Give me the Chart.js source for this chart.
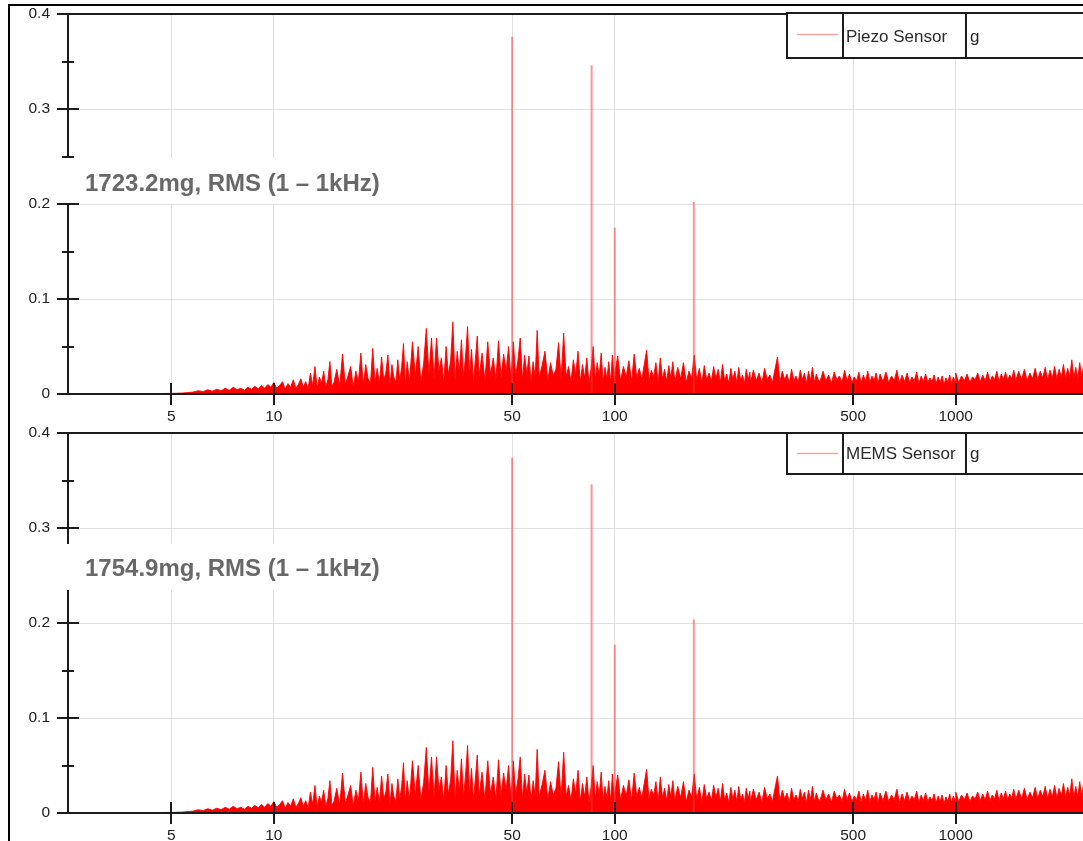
<!DOCTYPE html>
<html>
<head>
<meta charset="utf-8">
<script src="https://cdn.jsdelivr.net/npm/chart.js@4.4.1/dist/chart.umd.min.js"></script>
<style>
  html, body { margin: 0; padding: 0; background: #fff; overflow: hidden; }
  #page { position: relative; width: 1083px; height: 841px; }
  #frame { position: absolute; left: 8px; top: 4px; right: 0; bottom: 0; border-left: 2px solid #000; border-top: 2px solid #000; }
  canvas { position: absolute; left: 0; }
  #piezo { top: 0; }
  #mems { top: 419px; }
</style>
</head>
<body>
<div id="page">
  <div id="frame"></div>
  <canvas id="piezo" width="1083" height="430"></canvas>
  <canvas id="mems" width="1083" height="430"></canvas>
</div>
<script>
// axis ticks
const xTicks = [5, 10, 50, 100, 500, 1000];

// spectrum, band by band (Hz / g). both sensors read the same at this scale
const hzLow = [2.5, 3, 3.5, 4, 4.5, 5, 5.2, 5.4, 5.6, 5.8, 6, 6.2, 6.4, 6.6, 6.8, 7, 7.2, 7.4, 7.6, 7.8, 8, 8.2, 8.4, 8.6, 8.8, 9, 9.2, 9.4, 9.6, 9.8];
const gLow = [0.0004, 0.0004, 0.0004, 0.0005, 0.0005, 0.0006, 0.0008, 0.001, 0.0015, 0.002, 0.0035, 0.0025, 0.0045, 0.003, 0.005, 0.0035, 0.006, 0.004, 0.007, 0.0045, 0.006, 0.004, 0.007, 0.005, 0.008, 0.0055, 0.009, 0.006, 0.01, 0.007];

const hz10to15 = [10, 10.2, 10.4, 10.6, 10.8, 11, 11.2, 11.4, 11.6, 11.8, 12, 12.2, 12.4, 12.6, 12.8, 13, 13.2, 13.4, 13.6, 13.8, 14, 14.2, 14.4, 14.6, 14.8];
const g10to15 = [0.012, 0.006, 0.009, 0.013, 0.005, 0.011, 0.007, 0.015, 0.006, 0.010, 0.016, 0.007, 0.013, 0.005, 0.022, 0.009, 0.029, 0.006, 0.018, 0.011, 0.024, 0.007, 0.015, 0.034, 0.008];

const hz15to25 = [15, 15.3, 15.6, 15.9, 16.2, 16.5, 16.8, 17.1, 17.4, 17.7, 18, 18.3, 18.6, 18.9, 19.2, 19.5, 19.8, 20.1, 20.4, 20.7, 21, 21.3, 21.6, 21.9, 22.2, 22.5, 22.8, 23.1, 23.4, 23.7, 24, 24.3, 24.6, 24.9];
const g15to25 = [0.012, 0.026, 0.008, 0.042, 0.010, 0.019, 0.029, 0.007, 0.024, 0.013, 0.043, 0.009, 0.031, 0.016, 0.011, 0.048, 0.012, 0.027, 0.010, 0.039, 0.015, 0.022, 0.041, 0.009, 0.031, 0.017, 0.012, 0.036, 0.014, 0.028, 0.053, 0.011, 0.034, 0.018];

const hz25to40 = [25, 25.5, 26, 26.5, 27, 27.5, 28, 28.5, 29, 29.5, 30, 30.5, 31, 31.5, 32, 32.5, 33, 33.5, 34, 34.5, 35, 35.5, 36, 36.5, 37, 37.5, 38, 38.5, 39, 39.5];
const g25to40 = [0.014, 0.055, 0.019, 0.050, 0.013, 0.032, 0.069, 0.021, 0.059, 0.016, 0.059, 0.024, 0.038, 0.012, 0.050, 0.020, 0.035, 0.076, 0.015, 0.045, 0.022, 0.057, 0.017, 0.040, 0.071, 0.019, 0.047, 0.013, 0.036, 0.061];

const hz40to60 = [40, 40.8, 41.6, 42.4, 43.2, 44, 44.8, 45.6, 46.4, 47.2, 48, 48.8, 49.6, 50.4, 51.2, 52, 52.8, 53.6, 54.4, 55.2, 56, 56.8, 57.6, 58.4, 59.2];
const g40to60 = [0.018, 0.043, 0.014, 0.055, 0.020, 0.038, 0.015, 0.056, 0.017, 0.042, 0.024, 0.050, 0.016, 0.055, 0.019, 0.036, 0.059, 0.015, 0.041, 0.021, 0.040, 0.013, 0.034, 0.018, 0.067];

const hz60to100 = [60, 61.2, 62.4, 63.6, 64.8, 66, 67.2, 68.4, 69.6, 70.8, 72, 73.2, 74.4, 75.6, 76.8, 78, 79.2, 80.4, 81.6, 82.8, 84, 85.2, 86.4, 87.6, 88.8, 90, 91.2, 92.4, 93.6, 94.8, 96, 97.2, 98.4, 99.6];
const g60to100 = [0.017, 0.030, 0.045, 0.014, 0.033, 0.019, 0.026, 0.054, 0.016, 0.064, 0.018, 0.029, 0.013, 0.036, 0.020, 0.045, 0.012, 0.031, 0.017, 0.038, 0.011, 0.027, 0.050, 0.015, 0.033, 0.019, 0.043, 0.013, 0.028, 0.016, 0.034, 0.012, 0.041, 0.015];

const hz100to150 = [100, 102, 104, 106, 108, 110, 112, 114, 116, 118, 120, 122, 124, 126, 128, 130, 132, 134, 136, 138, 140, 142, 144, 146, 148];
const g100to150 = [0.022, 0.040, 0.014, 0.029, 0.018, 0.035, 0.013, 0.042, 0.017, 0.027, 0.015, 0.031, 0.046, 0.014, 0.025, 0.018, 0.033, 0.012, 0.038, 0.016, 0.026, 0.013, 0.030, 0.017, 0.034];

const hz150to250 = [150, 153, 156, 159, 162, 165, 168, 171, 174, 177, 180, 183, 186, 189, 192, 195, 198, 201, 204, 207, 210, 213, 216, 219, 222, 225, 228, 231, 234, 237, 240, 243, 246, 249];
const g150to250 = [0.013, 0.028, 0.016, 0.033, 0.012, 0.024, 0.017, 0.041, 0.014, 0.027, 0.011, 0.030, 0.015, 0.022, 0.013, 0.029, 0.016, 0.026, 0.012, 0.031, 0.014, 0.021, 0.011, 0.027, 0.015, 0.024, 0.012, 0.028, 0.014, 0.020, 0.011, 0.026, 0.015, 0.023];

const hz250to400 = [250, 255, 260, 265, 270, 275, 280, 285, 290, 295, 300, 305, 310, 315, 320, 325, 330, 335, 340, 345, 350, 355, 360, 365, 370, 375, 380, 385, 390, 395];
const g250to400 = [0.012, 0.025, 0.014, 0.022, 0.011, 0.027, 0.015, 0.020, 0.012, 0.026, 0.039, 0.013, 0.024, 0.015, 0.021, 0.011, 0.026, 0.014, 0.019, 0.012, 0.025, 0.015, 0.022, 0.011, 0.024, 0.014, 0.028, 0.012, 0.021, 0.015];

const hz400to600 = [400, 408, 416, 424, 432, 440, 448, 456, 464, 472, 480, 488, 496, 504, 512, 520, 528, 536, 544, 552, 560, 568, 576, 584, 592];
const g400to600 = [0.013, 0.024, 0.014, 0.020, 0.011, 0.023, 0.015, 0.019, 0.012, 0.025, 0.014, 0.021, 0.012, 0.018, 0.014, 0.023, 0.011, 0.020, 0.013, 0.024, 0.012, 0.019, 0.014, 0.022, 0.011];

const hz600to1000 = [600, 612, 624, 636, 648, 660, 672, 684, 696, 708, 720, 732, 744, 756, 768, 780, 792, 804, 816, 828, 840, 852, 864, 876, 888, 900, 912, 924, 936, 948, 960, 972, 984, 996];
const g600to1000 = [0.021, 0.013, 0.023, 0.012, 0.019, 0.014, 0.025, 0.011, 0.020, 0.013, 0.022, 0.012, 0.018, 0.014, 0.023, 0.011, 0.019, 0.013, 0.021, 0.012, 0.017, 0.013, 0.020, 0.011, 0.018, 0.012, 0.019, 0.010, 0.017, 0.012, 0.020, 0.011, 0.018, 0.013];

const hz1000to1500 = [1000, 1020, 1040, 1060, 1080, 1100, 1120, 1140, 1160, 1180, 1200, 1220, 1240, 1260, 1280, 1300, 1320, 1340, 1360, 1380, 1400, 1420, 1440, 1460, 1480];
const g1000to1500 = [0.022, 0.012, 0.019, 0.014, 0.021, 0.012, 0.018, 0.015, 0.022, 0.013, 0.020, 0.014, 0.023, 0.013, 0.019, 0.015, 0.024, 0.013, 0.021, 0.015, 0.023, 0.014, 0.020, 0.016, 0.025];

const hz1500up = [1500, 1530, 1560, 1590, 1620, 1650, 1680, 1710, 1740, 1770, 1800, 1830, 1860, 1890, 1920, 1950, 1980, 2010, 2040, 2070, 2100, 2130, 2160, 2190, 2220, 2250, 2280, 2310, 2340, 2370, 2400];
const g1500up = [0.014, 0.024, 0.015, 0.026, 0.014, 0.022, 0.016, 0.027, 0.015, 0.024, 0.017, 0.028, 0.015, 0.025, 0.017, 0.029, 0.016, 0.026, 0.018, 0.031, 0.016, 0.027, 0.018, 0.036, 0.017, 0.028, 0.016, 0.033, 0.018, 0.030, 0.017];

// narrow tones
const spikeHz = [50, 85.5, 100, 170.5];
const piezoSpikeG = [0.376, 0.346, 0.175, 0.202];
const memsSpikeG = [0.374, 0.346, 0.177, 0.204];

const bandHz = [hzLow, hz10to15, hz15to25, hz25to40, hz40to60, hz60to100, hz100to150, hz150to250, hz250to400, hz400to600, hz600to1000, hz1000to1500, hz1500up];
const bandG = [gLow, g10to15, g15to25, g25to40, g40to60, g60to100, g100to150, g150to250, g250to400, g400to600, g600to1000, g1000to1500, g1500up];

const FONT = "'Liberation Sans', Arial, sans-serif";

function spectrumPoints() {
  return bandHz.flatMap((hz, b) => hz.map((f, i) => ({ x: f, y: bandG[b][i] })));
}

function spikePoints(heights) {
  const pts = [];
  spikeHz.forEach((f, i) => {
    pts.push({ x: f, y: 0 }, { x: f, y: heights[i] }, { x: f, y: null });
  });
  return pts;
}

const panelDecor = {
  id: "panelDecor",
  afterDraw(chart, args, opts) {
    const { ctx, chartArea: a } = chart;
    const x = chart.scales.x;
    const y = chart.scales.y;
    const n = opts.note;
    ctx.save();
    ctx.strokeStyle = "#1c1c1c";
    ctx.lineWidth = 2;

    ctx.beginPath();
    ctx.moveTo(a.left - 11, a.top);
    ctx.lineTo(a.right, a.top);
    ctx.moveTo(a.left - 11, a.bottom);
    ctx.lineTo(a.right, a.bottom);
    ctx.moveTo(a.left, a.top);
    ctx.lineTo(a.left, a.bottom);
    ctx.stroke();

    // rms note
    ctx.fillStyle = "#fff";
    ctx.fillRect(n.left, n.top, n.right - n.left, n.bottom - n.top);
    ctx.fillStyle = "#686868";
    ctx.font = "bold 24px " + FONT;
    ctx.textBaseline = "alphabetic";
    ctx.textAlign = "left";
    ctx.fillText(n.text, n.textX, n.textY);

    // tick marks crossing the axes (hidden under the note box)
    ctx.beginPath();
    y.ticks.forEach((t) => {
      const k = Math.round(t.value * 100);
      if (k === 0 || k === 40) return;
      const py = Math.round(y.getPixelForValue(t.value));
      if (py > n.top + 2 && py < n.bottom - 2) return;
      const len = k % 10 === 0 ? 11 : 6;
      ctx.moveTo(a.left - len, py);
      ctx.lineTo(a.left + len, py);
    });
    x.ticks.forEach((t) => {
      const px = Math.round(x.getPixelForValue(t.value));
      ctx.moveTo(px, a.bottom - 11);
      ctx.lineTo(px, a.bottom + 11);
    });
    ctx.stroke();

    // legend table
    const L = opts.legend;
    const right = chart.width + 5;
    ctx.fillStyle = "#fff";
    ctx.fillRect(L.left, L.top, right - L.left, L.bottom - L.top);
    ctx.strokeRect(L.left, L.top, right - L.left, L.bottom - L.top);
    ctx.beginPath();
    L.cols.forEach((c) => {
      ctx.moveTo(c, L.top);
      ctx.lineTo(c, L.bottom);
    });
    ctx.stroke();
    ctx.strokeStyle = "#f5a3a3";
    ctx.lineWidth = 1.5;
    ctx.beginPath();
    ctx.moveTo(L.left + 10, L.lineY);
    ctx.lineTo(L.cols[0] - 5, L.lineY);
    ctx.stroke();
    ctx.fillStyle = "#2a2a2a";
    ctx.font = "17px " + FONT;
    ctx.fillText(chart.data.datasets[1].label, L.cols[0] + 3, L.textY);
    ctx.fillText(opts.unit, L.cols[1] + 4, L.textY);
    ctx.restore();
  },
};

function makePanel(id, label, spikes, note, legend) {
  const ctx = document.getElementById(id).getContext("2d");
  return new Chart(ctx, {
    type: "line",
    data: {
      datasets: [
        {
          label: label + " tones",
          data: spikePoints(spikes),
          borderColor: "rgba(255, 60, 60, 0.55)",
          borderWidth: 2,
          pointRadius: 0,
          spanGaps: false,
          fill: false,
        },
        {
          label: label,
          data: spectrumPoints(),
          borderColor: "rgba(255, 0, 0, 0.9)",
          backgroundColor: "rgb(255, 0, 0)",
          borderWidth: 1,
          pointRadius: 0,
          tension: 0,
          fill: "origin",
        },
      ],
    },
    options: {
      responsive: false,
      animation: false,
      events: [],
      layout: { padding: { top: 14, right: 0, bottom: 0, left: 0 } },
      plugins: {
        legend: { display: false },
        tooltip: { enabled: false },
        panelDecor: { note, legend, unit: "g" },
      },
      scales: {
        x: {
          type: "logarithmic",
          min: 2.49,
          max: 2362,
          afterBuildTicks: (s) => {
            s.ticks = xTicks.map((v) => ({ value: v }));
          },
          afterFit: (s) => {
            s.height = 36;
            s.paddingLeft = 0;
            s.paddingRight = 0;
          },
          border: { display: false },
          grid: { color: "#e0e0e0", drawTicks: false },
          ticks: {
            autoSkip: false,
            maxRotation: 0,
            padding: 13,
            color: "#222",
            font: { family: FONT, size: 15.5 },
            callback: (v) => String(v),
          },
        },
        y: {
          min: 0,
          max: 0.4,
          afterFit: (s) => {
            s.width = 68;
            s.paddingTop = 0;
            s.paddingBottom = 0;
          },
          border: { display: false },
          grid: {
            drawTicks: false,
            color: (c) => {
              const k = Math.round(c.tick.value * 100);
              return k % 10 === 0 && k > 0 && k < 40 ? "#e0e0e0" : "rgba(0,0,0,0)";
            },
          },
          ticks: {
            stepSize: 0.05,
            autoSkip: false,
            padding: 18,
            color: "#222",
            font: { family: FONT, size: 15.5 },
            callback: (v) => {
              const k = Math.round(v * 100);
              return k % 10 === 0 ? String(k / 100) : "";
            },
          },
        },
      },
    },
    plugins: [panelDecor],
  });
}

makePanel("piezo", "Piezo Sensor", piezoSpikeG,
  { text: "1723.2mg, RMS (1 \u2013 1kHz)", left: 62, right: 447, top: 158, bottom: 204, textX: 85, textY: 191 },
  { left: 787, top: 13, bottom: 58, cols: [843, 966], lineY: 34.5, textY: 42 });

makePanel("mems", "MEMS Sensor", memsSpikeG,
  { text: "1754.9mg, RMS (1 \u2013 1kHz)", left: 62, right: 447, top: 125, bottom: 171, textX: 85, textY: 157 },
  { left: 787, top: 14, bottom: 55, cols: [843, 966], lineY: 34.5, textY: 40 });
</script>
</body>
</html>
